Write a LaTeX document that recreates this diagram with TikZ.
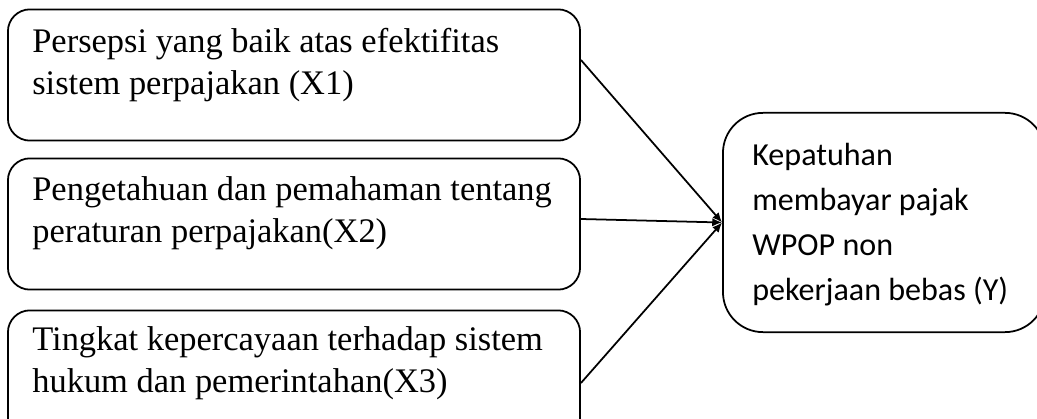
\documentclass[tikz,border=0pt]{standalone}
\usepackage{fontspec}
\setmainfont{Liberation Serif}
\newfontfamily\calibri{Carlito}
\usetikzlibrary{arrows.meta}

\begin{document}
\begin{tikzpicture}[x=0.025cm, y=-0.025cm,
  every node/.style={inner sep=0pt},
  xbox/.style={draw, line width=1.25pt, rounded corners=0.55cm, minimum width=14.3cm, minimum height=3.28cm},
  ybox/.style={draw, line width=1.25pt, rounded corners=1cm, minimum width=8.05cm, minimum height=5.48cm},
  xtext/.style={anchor=base west, align=left, font=\fontsize{24.5}{29.8}\selectfont},
  ytext/.style={anchor=base west, align=left, font=\calibri\fontsize{22.8}{32.2}\selectfont}]

\clip (0,0) rectangle (1037,419);

% Variabel bebas (X)
\node[xbox] (x1) at (294,75) {};
\node[xtext] (x1text) at ([shift={(25,86)}]x1.north west) {Persepsi yang baik atas efektifitas\\sistem perpajakan (X1)};

\node[xbox] (x2) at (294,224) {};
\node[xtext] (x2text) at ([shift={(25,85)}]x2.north west) {Pengetahuan dan pemahaman tentang\\peraturan perpajakan(X2)};

\node[xbox] (x3) at (294,376) {};
\node[xtext] (x3text) at ([shift={(25,83)}]x3.north west) {Tingkat kepercayaan terhadap sistem\\hukum dan pemerintahan(X3)};

% Variabel terikat (Y)
\node[ybox] (y) at (884,222.5) {};
\node[ytext] (ytext) at ([shift={(30,189)}]y.north west) {Kepatuhan\\membayar pajak\\WPOP non\\pekerjaan bebas (Y)};

\draw[-{Latex[length=7pt,width=6pt]}, line width=1.25pt] ([shift={(0,-15)}]x1.east) -- (y.west);
\draw[-{Latex[length=7pt,width=6pt]}, line width=1.25pt] ([shift={(0,-5)}]x2.east) -- (y.west);
\draw[-{Latex[length=7pt,width=6pt]}, line width=1.25pt] ([shift={(0,7)}]x3.east) -- (y.west);

\end{tikzpicture}
\end{document}
